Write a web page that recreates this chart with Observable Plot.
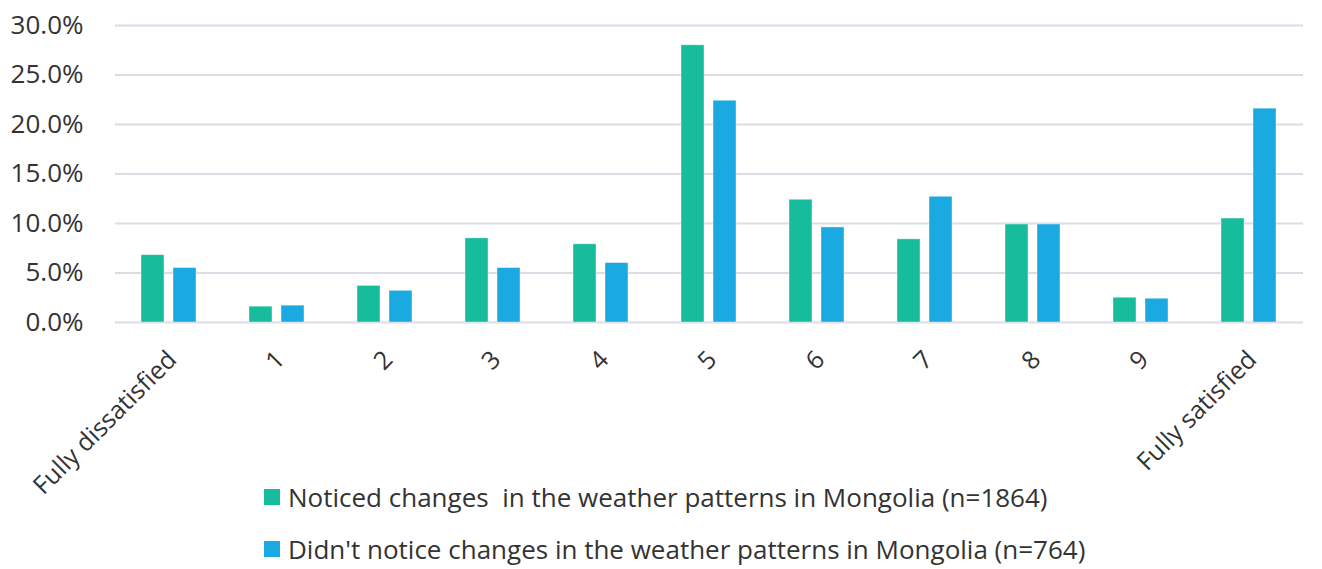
<!DOCTYPE html>
<html>
<head>
<meta charset="utf-8">
<script src="https://cdn.jsdelivr.net/npm/d3@7"></script>
<script src="https://cdn.jsdelivr.net/npm/@observablehq/plot@0.6"></script>
<style>
  body { margin: 0; background: #fff; font-family: "Open Sans", "Noto Sans", sans-serif; }
  #chart svg { display: block; overflow: visible; }
  .legend { position: relative; height: 99px; }
  .item { position: absolute; left: 264px; display: flex; align-items: center; font-size: 26px; color: #333; white-space: pre; }
  .sw { width: 16px; height: 16px; margin-right: 8px; }
</style>
</head>
<body>
<div id="chart"></div>
<div class="legend" id="legend"></div>
<script>
const categories = ["Fully dissatisfied", "1", "2", "3", "4", "5", "6", "7", "8", "9", "Fully satisfied"];
const seriesNames = [
  "Noticed changes  in the weather patterns in Mongolia (n=1864)",
  "Didn't notice changes in the weather patterns in Mongolia (n=764)"
];
const noticed    = [6.8, 1.6, 3.7, 8.5, 7.9, 28.0, 12.4, 8.4, 9.9, 2.5, 10.5];
const notNoticed = [5.5, 1.7, 3.2, 5.5, 6.0, 22.4, 9.6, 12.7, 9.9, 2.4, 21.6];
const colors = ["#17BC9C", "#1AA9E0"];
const yTicks = [0, 5, 10, 15, 20, 25, 30];

const data = [];
categories.forEach((c, i) => {
  data.push({cat: c, series: seriesNames[0], value: noticed[i]});
  data.push({cat: c, series: seriesNames[1], value: notNoticed[i]});
});

const chart = Plot.plot({
  width: 1322,
  height: 470,
  marginLeft: 112,
  marginRight: 17,
  marginTop: 25,
  marginBottom: 148,
  style: {fontFamily: "'Open Sans', 'Noto Sans', sans-serif", fontSize: "26px", color: "#333", overflow: "visible"},
  fx: {domain: categories, padding: 0, label: null, axis: null},
  x: {domain: seriesNames, axis: null, paddingInner: 0.28, paddingOuter: 0.8},
  y: {domain: [0, 30], label: null},
  color: {domain: seriesNames, range: colors},
  marks: [
    Plot.gridY(yTicks, {stroke: "#d8dde6", strokeOpacity: 1, strokeWidth: 1.8}),
    Plot.barY(data, {fx: "cat", x: "series", y: "value", fill: "series", stroke: "#ffffff", strokeOpacity: 0.5, strokeWidth: 0.8}),
    Plot.axisY(yTicks, {tickFormat: d => d.toFixed(1) + "%", tickSize: 0, tickPadding: 32, fontSize: 26, fill: "#333", label: null}),
    Plot.axisFx({anchor: "bottom", tickRotate: -45, tickSize: 0, tickPadding: 33, dx: 3, fontSize: 25, fill: "#333", label: null})
  ]
});
document.getElementById("chart").appendChild(chart);

const legend = document.getElementById("legend");
seriesNames.forEach((s, i) => {
  const it = document.createElement("div");
  it.className = "item";
  it.style.top = (i === 0 ? 9 : 61) + "px";
  const sw = document.createElement("div");
  sw.className = "sw";
  sw.style.background = colors[i];
  const tx = document.createElement("span");
  tx.textContent = s;
  it.appendChild(sw);
  it.appendChild(tx);
  legend.appendChild(it);
});
</script>
</body>
</html>
